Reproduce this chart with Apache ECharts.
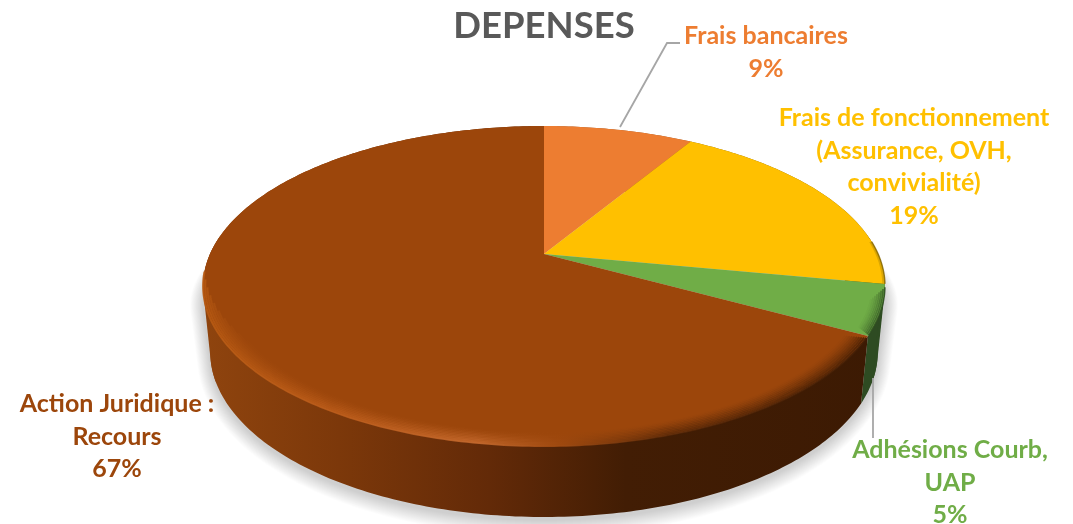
<!DOCTYPE html>
<html><head><meta charset="utf-8">
<style>html,body{margin:0;padding:0;background:#fff}#c{width:1073px;height:524px}</style>
<script src="https://cdn.jsdelivr.net/npm/echarts@6/dist/echarts.min.js"></script>
</head><body><div id="c"></div>
<script>
const categories = ["Frais bancaires", "Frais de fonctionnement\n(Assurance, OVH,\nconvivialité)", "Adhésions Courb,\nUAP", "Action Juridique :\nRecours"];
const values = [8.6, 19.4, 5, 67];
const colors = ["#ED7D31", "#FFC000", "#70AD47", "#9C460B"];
const titleText = "DEPENSES";

const TOP = {ax:544, ay:254, A:334, B:153.6};
const BOT = {ax:544, ay:319, A:327, B:158.4};
const P = 0.2, TAU = Math.PI*2;
const total = values.reduce((a,b)=>a+b,0);
const starts = []; let run = 0;
values.forEach(v=>{starts.push(run/total*TAU); run+=v;});
function pt(t,r,g){const X=r*Math.sin(t),Y=-r*Math.cos(t),w=1-P*Y;return [g.ax+g.A*X/w,g.ay+g.B*Y/w];}
function arc(s,e,r,g,step){const n=Math.max(2,Math.ceil((e-s)/(step||0.015))),o=[];for(let i=0;i<=n;i++)o.push(pt(s+(e-s)*i/n,r,g));return o;}
function hull(points){
  const p=points.slice().sort((a,b)=>a[0]-b[0]||a[1]-b[1]);
  const c=(o,a,b)=>(a[0]-o[0])*(b[1]-o[1])-(a[1]-o[1])*(b[0]-o[0]);
  const lo=[],up=[];
  for(const q of p){while(lo.length>1&&c(lo[lo.length-2],lo[lo.length-1],q)<=0)lo.pop();lo.push(q);}
  for(const q of p.reverse()){while(up.length>1&&c(up[up.length-2],up[up.length-1],q)<=0)up.pop();up.push(q);}
  return lo.slice(0,-1).concat(up.slice(0,-1));
}
function grad(stops){return {type:'linear',x:203,y:0,x2:885,y2:0,global:true,colorStops:stops};}
const wallFill = [
  '#9a5a2e',
  '#7f6000',
  '#2E4B22',
  grad([{offset:0,color:'#8F440E'},{offset:0.2,color:'#7C380A'},{offset:0.42,color:'#632A08'},{offset:0.62,color:'#421D04'},{offset:1,color:'#3C1A03'}])
];
const bevelStroke = [
  null,
  '#8a6c08',
  '#2F4F22',
  grad([{offset:0,color:'#B85A12'},{offset:0.2,color:'#BC5C1A'},{offset:0.4,color:'#C4682C'},{offset:0.52,color:'#A04A10'},{offset:0.68,color:'#5E2A07'},{offset:1,color:'#3E1B03'}])
];
function range(i){const s=starts[i],e=s+values[i]/total*TAU;return [s,e];}

const option = {
  animation:false,
  backgroundColor:'#fff',
  title:{text:titleText,left:539,top:3,textAlign:'center',textStyle:{fontFamily:'Lato',fontWeight:700,fontSize:36.5,color:'#595959'}},
  series:[
    {type:'custom',coordinateSystem:'none',silent:true,z:1,data:[0],
     renderItem(){
       const children=[];
       for(let d=16;d>=1;d--){
         const g={ax:BOT.ax,ay:BOT.ay+3,A:BOT.A+d*0.8,B:BOT.B+d*0.8};
         const gt={ax:TOP.ax,ay:TOP.ay+24,A:TOP.A+d*0.8,B:TOP.B*0.85};
         children.push({type:'polygon',shape:{points:hull(arc(0,TAU,1,g,0.03).concat(arc(0,TAU,1,gt,0.03)))},style:{fill:'rgba(0,0,0,0.012)'}});
       }
       return {type:'group',children};
     }},
    {type:'custom',coordinateSystem:'none',silent:true,z:2,data:values,
     renderItem(params){
       const i=params.dataIndex,[s,e]=range(i);
       const a=arc(s,e,1,TOP),b=arc(s,e,1,BOT);
       const children=[{type:'polygon',shape:{points:a.concat(b.slice().reverse())},style:{fill:wallFill[i]}}];
       const turns=[TAU*0.69,TAU*0.77,TAU*0.23,TAU*0.31];
       for(let j=0;j<turns.length;j+=2){
         const ts=Math.max(s,turns[j]),te=Math.min(e,turns[j+1]);
         if(te>ts)children.push({type:'polygon',shape:{points:hull(arc(ts,te,1,TOP,0.02).concat(arc(ts,te,1,BOT,0.02)))},style:{fill:wallFill[i]}});
       }
       return {type:'group',children};
     }},
    {type:'custom',coordinateSystem:'none',silent:true,z:3,data:values,
     renderItem(params){
       const i=params.dataIndex,[s,e]=range(i);
       const apex=[TOP.ax,TOP.ay];
       const children=[{type:'polygon',shape:{points:[apex].concat(arc(s,e,1,TOP))},style:{fill:colors[i]}}];
       if(bevelStroke[i]){
         const isMain=i===3, layers=isMain?10:(i===2?8:2);
         for(let k=layers-1;k>=0;k--){
           const r=1-k*(isMain?0.006:0.005);
           const as=isMain?s+0.012+k*0.002:(i===2?s+0.02+k*0.012:s+0.95);
           const ae=isMain?(4.6-k*0.05):(i===2?e-0.004-k*0.004:e);
           const op=Math.pow(1-k/layers,1.5)*(isMain?0.9:0.85);
           children.push({type:'polyline',shape:{points:arc(as,ae,r,TOP)},
             style:{fill:'none',stroke:bevelStroke[i],lineWidth:isMain?2:1.6,opacity:op}});
         }
       }
       return {type:'group',children};
     }}
  ],
  graphic:[
    {type:'polyline',z:10,shape:{points:[[620,127],[667,43],[680,43]]},style:{fill:'none',stroke:'#A6A6A6',lineWidth:1.8}},
    {type:'polyline',z:10,shape:{points:[[873,378],[873,438]]},style:{fill:'none',stroke:'#A6A6A6',lineWidth:1.8}},
    ...[[766,20],[914,102],[950,434],[117,388]].map((p,i)=>({
      type:'text',z:11,x:p[0],y:p[1],
      style:{text:categories[i]+'\n'+Math.round(values[i]/total*100)+'%',fill:colors[i],align:'center',verticalAlign:'top',
             fontFamily:'Lato',fontWeight:700,fontSize:25,lineHeight:32.5}
    }))
  ]
};
echarts.init(document.getElementById('c'),null,{renderer:'canvas'}).setOption(option);
</script></body></html>
